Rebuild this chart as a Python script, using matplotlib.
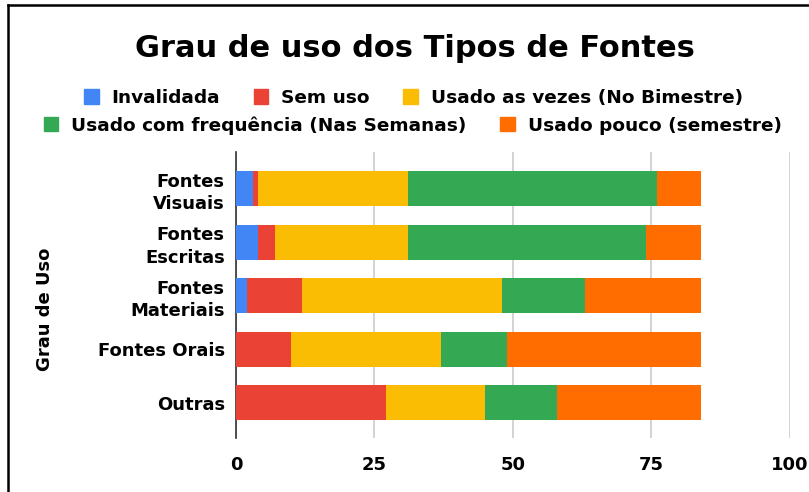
import numpy as np
import matplotlib.pyplot as plt
from matplotlib.lines import Line2D
from matplotlib.patches import Patch

plt.rcParams['font.family'] = ['DejaVu Sans']
plt.rcParams['font.weight'] = 'bold'

# dados
categorias = ['Fontes\nVisuais', 'Fontes\nEscritas', 'Fontes\nMateriais', 'Fontes Orais', 'Outras']
series = ['Invalidada', 'Sem uso', 'Usado as vezes (No Bimestre)',
          'Usado com frequência (Nas Semanas)', 'Usado pouco (semestre)']
invalidada = [3, 4, 2, 0, 0]
sem_uso = [1, 3, 10, 10, 27]
as_vezes = [27, 24, 36, 27, 18]
frequencia = [45, 43, 15, 12, 13]
pouco = [8, 10, 21, 35, 26]
cores = ['#4285F4', '#EA4335', '#FBBC04', '#34A853', '#FF6D01']

valores = [invalidada, sem_uso, as_vezes, frequencia, pouco]

fig = plt.figure(figsize=(8.09, 4.92), dpi=100)
ax = fig.add_axes([0.2917, 0.1098, 0.6848, 0.5813])

y = np.arange(len(categorias))
kiri = np.zeros(len(categorias))
for nama, v, c in zip(series, valores, cores):
    ax.barh(y, v, left=kiri, height=0.65, color=c, label=nama, zorder=3)
    kiri += np.array(v)

ax.set_xlim(0, 100)
ax.set_ylim(4.66, -0.69)
ax.set_xticks([0, 25, 50, 75, 100])
ax.set_xticklabels(['0', '25', '50', '75', '100'], fontsize=13, fontweight='bold')
ax.set_yticks(y)
ax.set_yticklabels(categorias, fontsize=13, fontweight='bold', ma='right', linespacing=1.3)
ax.tick_params(axis='both', length=0, pad=8)
ax.tick_params(axis='x', pad=13)
ax.grid(axis='x', color='#cccccc', linewidth=1.2, zorder=0)
for s in ['top', 'right', 'bottom']:
    ax.spines[s].set_visible(False)
ax.spines['left'].set_color('#333333')
ax.spines['left'].set_linewidth(1.2)
ax.set_ylabel('Grau de Uso', fontsize=13, fontweight='bold')
ax.yaxis.set_label_coords(-0.328, 0.45)

fig.text(0.513, 0.902, 'Grau de uso dos Tipos de Fontes', ha='center', va='center',
         fontsize=22, fontweight='bold')

h = [Patch(color=c) for c in cores]
fig.legend(h[:3], series[:3], ncol=3, loc='center', bbox_to_anchor=(0.511, 0.801),
           frameon=False, fontsize=13.3, handlelength=0.8, handleheight=0.8,
           handletextpad=0.7, columnspacing=1.8, borderpad=0, borderaxespad=0)
fig.legend(h[3:], series[3:], ncol=2, loc='center', bbox_to_anchor=(0.51, 0.745),
           frameon=False, fontsize=13.3, handlelength=0.8, handleheight=0.8,
           handletextpad=0.7, columnspacing=1.8, borderpad=0, borderaxespad=0)

# bingkai
fig.add_artist(Line2D([8/809, 8/809], [0, 1-5/492], color='black', linewidth=1.8,
                      transform=fig.transFigure))
fig.add_artist(Line2D([8/809, 1], [1-5/492, 1-5/492], color='black', linewidth=1.8,
                      transform=fig.transFigure))

fig.savefig('out.png', dpi=100)
